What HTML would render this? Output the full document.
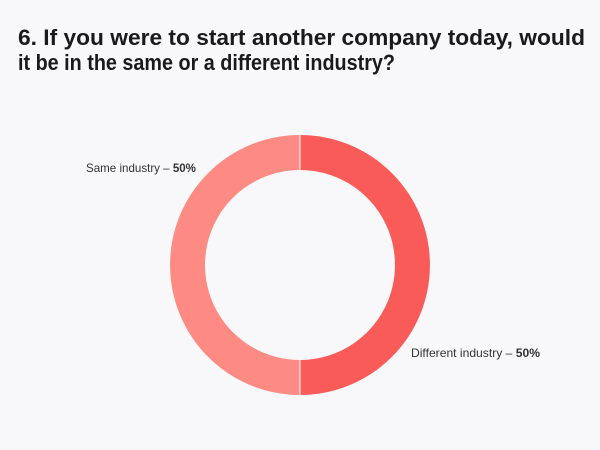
<!DOCTYPE html>
<html><head><meta charset="utf-8"><style>
html,body{margin:0;padding:0;background:#f8f8fa;}
svg{display:block}
</style></head><body>
<svg width="600" height="450" viewBox="0 0 600 450" xmlns="http://www.w3.org/2000/svg">
<rect width="600" height="450" fill="#f8f8fa"/>
<g font-family="Liberation Sans, sans-serif" font-weight="bold" font-size="22" fill="#1a1a1a">
<text x="18" y="45" textLength="567" lengthAdjust="spacingAndGlyphs">6. If you were to start another company today, would</text>
<text x="18" y="70" textLength="377" lengthAdjust="spacingAndGlyphs">it be in the same or a different industry?</text>
</g>
<path d="M300 135 A130 130 0 0 1 300 395 L300 360 A95 95 0 0 0 300 170 Z" fill="#f95b58"/>
<path d="M300 135 A130 130 0 0 0 300 395 L300 360 A95 95 0 0 1 300 170 Z" fill="#fe8a84"/>
<line x1="300" y1="135" x2="300" y2="170" stroke="#fff" stroke-width="1"/>
<line x1="300" y1="360" x2="300" y2="395" stroke="#fff" stroke-width="1"/>
<g font-family="Liberation Sans, sans-serif" font-size="12" fill="#333">
<text x="86" y="172" textLength="110" lengthAdjust="spacingAndGlyphs">Same industry – <tspan font-weight="bold">50%</tspan></text>
<text x="411" y="357" textLength="129" lengthAdjust="spacingAndGlyphs">Different industry – <tspan font-weight="bold">50%</tspan></text>
</g>
</svg>
</body></html>
